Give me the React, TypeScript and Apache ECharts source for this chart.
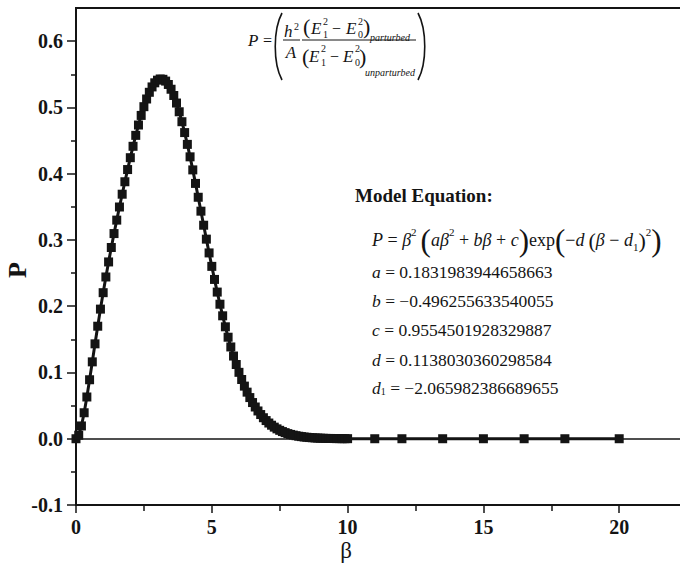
import React, { useEffect, useRef } from "react";
import * as echarts from "echarts";

// β values of the plotted points
const beta = [
  0, 0.1, 0.2, 0.3, 0.4, 0.5, 0.6, 0.7, 0.8, 0.9,
  1, 1.1, 1.2, 1.3, 1.4, 1.5, 1.6, 1.7, 1.8, 1.9,
  2, 2.1, 2.2, 2.3, 2.4, 2.5, 2.6, 2.7, 2.8, 2.9,
  3, 3.1, 3.2, 3.3, 3.4, 3.5, 3.6, 3.7, 3.8, 3.9,
  4, 4.1, 4.2, 4.3, 4.4, 4.5, 4.6, 4.7, 4.8, 4.9,
  5, 5.1, 5.2, 5.3, 5.4, 5.5, 5.6, 5.7, 5.8, 5.9,
  6, 6.1, 6.2, 6.3, 6.4, 6.5, 6.6, 6.7, 6.8, 6.9,
  7, 7.1, 7.2, 7.3, 7.4, 7.5, 7.6, 7.7, 7.8, 7.9,
  8, 8.1, 8.2, 8.3, 8.4, 8.5, 8.6, 8.7, 8.8, 8.9,
  9, 9.1, 9.2, 9.3, 9.4, 9.5, 9.6, 9.7, 9.8, 9.9,
  10, 11, 12, 13.5, 15, 16.5, 18, 20,
];

// P values
const pValues = [
  0, 0.0053, 0.0193, 0.0392, 0.063, 0.089, 0.116, 0.1432, 0.1698, 0.1956,
  0.2204, 0.2441, 0.2668, 0.2886, 0.3096, 0.3299, 0.3497, 0.369, 0.3878, 0.4062,
  0.4241, 0.4413, 0.4578, 0.4734, 0.4879, 0.5011, 0.5127, 0.5228, 0.5309, 0.5371,
  0.5411, 0.5429, 0.5424, 0.5397, 0.5346, 0.5274, 0.518, 0.5066, 0.4934, 0.4784,
  0.462, 0.4442, 0.4254, 0.4057, 0.3853, 0.3644, 0.3434, 0.3222, 0.3012, 0.2804,
  0.2601, 0.2404, 0.2213, 0.203, 0.1855, 0.1689, 0.1532, 0.1385, 0.1248, 0.112,
  0.1002, 0.0894, 0.0794, 0.0703, 0.0621, 0.0546, 0.0479, 0.0419, 0.0365, 0.0317,
  0.0274, 0.0237, 0.0204, 0.0175, 0.0149, 0.0127, 0.0108, 0.0092, 0.0077, 0.0065,
  0.0055, 0.0046, 0.0038, 0.0032, 0.0026, 0.0022, 0.0018, 0.0015, 0.0012, 0.001,
  0.0008, 0.0007, 0.0005, 0.0004, 0.0004, 0.0003, 0.0002, 0.0002, 0.0001, 0.0001,
  0.0001, 0, 0, 0, 0, 0, 0, 0,
];

const xTickLabels = [0, 5, 10, 15, 20];
const yTickValues = [-0.1, 0, 0.1, 0.2, 0.3, 0.4, 0.5, 0.6];
const yMinorTickValues = [-0.05, 0.05, 0.15, 0.25, 0.35, 0.45, 0.55];

const modelTitle = "Model Equation:";
const paramNames = ["a", "b", "c", "d", "d1"];
const paramValues = [
  "0.1831983944658663",
  "−0.496255633540055",
  "0.9554501928329887",
  "0.1138030360298584",
  "−2.065982386689655",
];

const SERIF = '"Liberation Serif", "Times New Roman", serif';
const INK = "#141414";

function txt(text: string, x: number, y: number, size: number, opt: any = {}) {
  return {
    type: "text",
    x,
    y,
    z: 100,
    rotation: opt.rotation || 0,
    style: {
      text,
      fill: INK,
      font: `${opt.italic ? "italic " : ""}${opt.bold ? "bold " : ""}${size}px ${SERIF}`,
      align: opt.align || "left",
      verticalAlign: "middle",
    },
  };
}

function hline(x1: number, x2: number, y: number) {
  return {
    type: "line",
    z: 100,
    shape: { x1, y1: y, x2, y2: y },
    style: { stroke: INK, lineWidth: 1 },
  };
}

function paren(xEnd: number, xMid: number, y1: number, y2: number) {
  const h = y2 - y1;
  return {
    type: "bezierCurve",
    z: 100,
    shape: {
      x1: xEnd, y1,
      x2: xEnd, y2,
      cpx1: xMid, cpy1: y1 + h * 0.25,
      cpx2: xMid, cpy2: y1 + h * 0.75,
    },
    style: { stroke: INK, lineWidth: 1.6, fill: null },
  };
}

const richBase = (size: number, lh: number, supSize = 10) => ({
  i: { font: `italic ${size}px ${SERIF}`, fill: INK, lineHeight: lh },
  r: { font: `${size}px ${SERIF}`, fill: INK, lineHeight: lh },
  sp: { font: `${size}px ${SERIF}`, fill: INK, lineHeight: lh, width: 4 },
  sup: { font: `${supSize}px ${SERIF}`, fill: INK, verticalAlign: "top", height: 14 },
  sub: { font: `${supSize}px ${SERIF}`, fill: INK, verticalAlign: "bottom", height: 16 },
  bp: { font: `31px ${SERIF}`, fill: INK, lineHeight: lh },
  mp: { font: `22px ${SERIF}`, fill: INK, lineHeight: lh },
});

function buildGraphics() {
  const g: any[] = [];
  // top formula
  g.push(txt("P", 248, 40, 17, { italic: true }));
  g.push(txt("=", 263, 40, 16));
  g.push(paren(282, 273, 13, 80));
  g.push(paren(418, 427, 13, 80));
  g.push(txt("h", 284, 31, 17, { italic: true }));
  g.push(txt("2", 294, 26, 10));
  g.push(hline(283, 300, 40));
  g.push(txt("A", 291, 52, 17, { italic: true, align: "center" }));
  g.push(hline(302, 416, 40));
  // numerator
  g.push(txt("(", 303, 26, 22));
  g.push(txt("E", 311, 28, 17, { italic: true }));
  g.push(txt("2", 323, 21, 10));
  g.push(txt("1", 323, 34, 10));
  g.push(txt("−", 332, 28, 16));
  g.push(txt("E", 346, 28, 17, { italic: true }));
  g.push(txt("2", 358, 21, 10));
  g.push(txt("0", 358, 34, 10));
  g.push(txt(")", 363, 26, 22));
  g.push(txt("parturbed", 370, 37, 10, { italic: true }));
  // denominator
  g.push(txt("(", 302, 56, 22));
  g.push(txt("E", 309, 56, 17, { italic: true }));
  g.push(txt("2", 321, 48, 10));
  g.push(txt("1", 321, 62, 10));
  g.push(txt("−", 330, 56, 16));
  g.push(txt("E", 343, 56, 17, { italic: true }));
  g.push(txt("2", 355, 48, 10));
  g.push(txt("0", 355, 62, 10));
  g.push(txt(")", 359, 56, 22));
  g.push(txt("unparturbed", 365, 72, 10, { italic: true }));

  // model equation block
  g.push(txt(modelTitle, 355, 195, 19, { bold: true }));
  g.push({
    type: "text",
    x: 372,
    y: 240,
    z: 100,
    style: {
      text:
        "{i|P}{r| = }{i|β}{sup|2}{sp| }{bp|(}{i|aβ}{sup|2}{r| + }{i|bβ}{r| + }{i|c}{bp|)}{r|exp}{bp|(}{r|−}{i|d}{sp| }{mp|(}{i|β}{r| − }{i|d}{sub|1}{mp|)}{sup|2}{bp|)}",
      rich: richBase(18, 30, 11),
      font: `18px ${SERIF}`,
      fill: INK,
      align: "left",
      verticalAlign: "middle",
    },
  });
  const ys = [272, 301, 330, 360, 388];
  paramNames.forEach((n, k) => {
    const name = n === "d1" ? "{i|d}{sub|1}" : `{i|${n}}`;
    g.push({
      type: "text",
      x: 372,
      y: ys[k],
      z: 100,
      style: {
        text: `${name}{r| = ${paramValues[k]}}`,
        rich: richBase(17.5, 22),
        font: `17.5px ${SERIF}`,
        fill: INK,
        align: "left",
        verticalAlign: "middle",
      },
    });
  });

  // axis names
  g.push(txt("β", 346, 550, 23, { align: "center" }));
  g.push(txt("P", 17, 270, 26, { align: "center", bold: true, rotation: Math.PI / 2 }));
  return g;
}

export default function App() {
  const ref = useRef<HTMLDivElement>(null);
  useEffect(() => {
    document.body.style.margin = "0";
    const chart = echarts.init(ref.current!, null, { renderer: "svg" });
    const data = beta.map((b, i) => [b, pValues[i]]);
    const labelStyle = {
      fontFamily: SERIF,
      fontWeight: "bold" as const,
      fontSize: 20,
      color: INK,
    };
    chart.setOption({
      animation: false,
      backgroundColor: "#fff",
      grid: {
        left: 76,
        top: 8,
        width: 679,
        height: 497,
        containLabel: false,
        outerBoundsMode: "none",
        show: true,
        borderColor: INK,
        borderWidth: 2,
        backgroundColor: "transparent",
      },
      xAxis: {
        type: "value",
        min: 0,
        max: 25,
        interval: 5,
        axisLine: { show: true, onZero: false, lineStyle: { color: INK, width: 2 } },
        axisTick: { show: true, inside: false, length: 8, lineStyle: { color: INK, width: 1.5 } },
        minorTick: { show: true, splitNumber: 2, length: 6, lineStyle: { color: INK, width: 1.5 } },
        axisLabel: { ...labelStyle, margin: 12, customValues: xTickLabels },
        splitLine: { show: false },
        minorSplitLine: { show: false },
      },
      yAxis: [
        {
          type: "value",
          min: -0.1,
          max: 0.65,
          interval: 0.1,
          axisLine: { show: true, onZero: false, lineStyle: { color: INK, width: 2 } },
          axisTick: {
            show: true,
            length: 9,
            customValues: yTickValues,
            lineStyle: { color: INK, width: 1.5 },
          },
          axisLabel: {
            ...labelStyle,
            margin: 13,
            customValues: yTickValues,
            formatter: (v: number) => v.toFixed(1),
          },
          splitLine: { show: false },
        },
        {
          type: "value",
          position: "left",
          min: -0.1,
          max: 0.65,
          interval: 0.05,
          axisLine: { show: false },
          axisTick: {
            show: true,
            length: 5,
            customValues: yMinorTickValues,
            lineStyle: { color: INK, width: 1.5 },
          },
          axisLabel: { show: false },
          splitLine: { show: false },
        },
      ],
      series: [
        {
          type: "line",
          data,
          yAxisIndex: 0,
          symbol: "rect",
          symbolSize: 9,
          showAllSymbol: true,
          itemStyle: { color: INK },
          lineStyle: { color: INK, width: 3 },
          markLine: {
            silent: true,
            symbol: "none",
            label: { show: false },
            lineStyle: { color: INK, width: 1.5, type: "solid" },
            data: [{ yAxis: 0 }],
          },
        },
      ],
      graphic: buildGraphics(),
    });
    return () => chart.dispose();
  }, []);
  return <div ref={ref} style={{ width: 680, height: 573, background: "#fff" }} />;
}
